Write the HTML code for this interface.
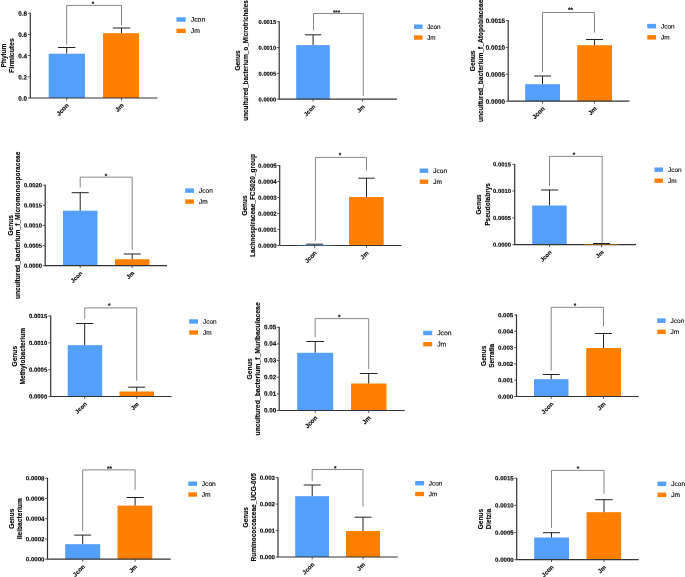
<!DOCTYPE html>
<html lang="en">
<head>
<meta charset="utf-8">
<title>Figure</title>
<style>
html,body{margin:0;padding:0;background:#fff;}
body{width:685px;height:577px;overflow:hidden;}
svg{display:block;}
svg text{font-family:"Liberation Sans", Arial, Helvetica, sans-serif;fill:#000000;stroke:#000000;stroke-width:0.12px;}
</style>
</head>
<body>
<svg width="685" height="577" viewBox="0 0 685 577">
<rect width="685" height="577" fill="#ffffff"/>
<g>
<rect x="48.7" y="53.7" width="36.3" height="44.3" fill="#539FFA"/>
<path d="M66.7 53.7V47.5M58 47.5H75.4" stroke="#222222" stroke-width="1" fill="none"/>
<rect x="103" y="33.2" width="36" height="64.8" fill="#FF8000"/>
<path d="M121.5 33.2V28M112.8 28H130.2" stroke="#222222" stroke-width="1" fill="none"/>
<path d="M30.3 12.8V98M29.8 98H157.5" stroke="#333333" stroke-width="1.2" fill="none"/>
<path d="M27.9 13.2H30.3M27.9 34.35H30.3M27.9 55.5H30.3M27.9 76.8H30.3M27.9 98H30.3M66.7 98V100.4M121.5 98V100.4" stroke="#333333" stroke-width="0.8" fill="none"/>
<text transform="translate(27 15.86) rotate(0.05)" font-size="6.3" font-weight="bold" text-anchor="end">0.8</text>
<text transform="translate(27 37.01) rotate(0.05)" font-size="6.3" font-weight="bold" text-anchor="end">0.6</text>
<text transform="translate(27 58.16) rotate(0.05)" font-size="6.3" font-weight="bold" text-anchor="end">0.4</text>
<text transform="translate(27 79.46) rotate(0.05)" font-size="6.3" font-weight="bold" text-anchor="end">0.2</text>
<text transform="translate(27 100.66) rotate(0.05)" font-size="6.3" font-weight="bold" text-anchor="end">0.0</text>
<text transform="translate(69.3 105.9) rotate(-45)" font-size="6.3" font-weight="bold" text-anchor="end">Jcon</text>
<text transform="translate(124.1 105.9) rotate(-45)" font-size="6.3" font-weight="bold" text-anchor="end">Jm</text>
<path d="M66.7 44.6V5.4H121.5V25" stroke="#555555" stroke-width="0.7" fill="none"/>
<text transform="translate(93 6.1) rotate(0.05)" font-size="6.4" font-weight="bold" stroke="none" fill="#222" text-anchor="middle">*</text>
<text transform="translate(6.2 55.6) rotate(-90)" font-size="6.9" font-weight="bold" text-anchor="middle" textLength="24" lengthAdjust="spacingAndGlyphs">Phylum</text>
<text transform="translate(14.4 55.6) rotate(-90)" font-size="6.9" font-weight="bold" text-anchor="middle" textLength="34.6" lengthAdjust="spacingAndGlyphs">Firmicutes</text>
<rect x="176.5" y="17.3" width="9.2" height="4.4" fill="#539FFA"/>
<rect x="176.5" y="28.7" width="9.2" height="4.4" fill="#FF8000"/>
<text transform="translate(190.8 21.7) rotate(0.05)" font-size="6.8">Jcon</text>
<text transform="translate(190.8 33.1) rotate(0.05)" font-size="6.8">Jm</text>
</g>
<g>
<rect x="296.2" y="45.1" width="33.6" height="54.1" fill="#539FFA"/>
<path d="M313.1 45.1V34.8M304.9 34.8H321.3" stroke="#222222" stroke-width="1" fill="none"/>
<path d="M279.2 21.3V99.2M278.7 99.2H397" stroke="#333333" stroke-width="1.2" fill="none"/>
<path d="M276.8 21.7H279.2M276.8 47.5H279.2M276.8 73.4H279.2M276.8 99.2H279.2M313.1 99.2V101.6M362.6 99.2V101.6" stroke="#333333" stroke-width="0.8" fill="none"/>
<text transform="translate(276.3 23.98) rotate(0.05)" font-size="5.8" font-weight="bold" text-anchor="end">0.0015</text>
<text transform="translate(276.3 49.78) rotate(0.05)" font-size="5.8" font-weight="bold" text-anchor="end">0.0010</text>
<text transform="translate(276.3 75.68) rotate(0.05)" font-size="5.8" font-weight="bold" text-anchor="end">0.0005</text>
<text transform="translate(276.3 101.48) rotate(0.05)" font-size="5.8" font-weight="bold" text-anchor="end">0.0000</text>
<text transform="translate(315.7 107.1) rotate(-45)" font-size="5.8" font-weight="bold" text-anchor="end">Jcon</text>
<text transform="translate(365.2 107.1) rotate(-45)" font-size="5.8" font-weight="bold" text-anchor="end">Jm</text>
<path d="M313.5 30.5V13.5H363.3V96" stroke="#555555" stroke-width="0.7" fill="none"/>
<text transform="translate(336.5 14.45) rotate(0.05)" font-size="6.1" font-weight="bold" stroke="none" fill="#222" text-anchor="middle">***</text>
<text transform="translate(240.1 60.5) rotate(-90)" font-size="6.5" font-weight="bold" text-anchor="middle">Genus</text>
<text transform="translate(247.5 60.5) rotate(-90)" font-size="6.7" font-weight="bold" text-anchor="middle" textLength="120.4" lengthAdjust="spacingAndGlyphs">uncultured_bacterium_o_Microtrichales</text>
<rect x="414" y="24.5" width="8.5" height="4.4" fill="#539FFA"/>
<rect x="414" y="35.3" width="8.5" height="4.4" fill="#FF8000"/>
<text transform="translate(427.2 28.9) rotate(0.05)" font-size="6.35">Jcon</text>
<text transform="translate(427.2 39.7) rotate(0.05)" font-size="6.35">Jm</text>
</g>
<g>
<rect x="525.2" y="84.2" width="34.8" height="17" fill="#539FFA"/>
<path d="M542.5 84.2V76M534 76H551" stroke="#222222" stroke-width="1" fill="none"/>
<rect x="577.2" y="45.2" width="34.8" height="56" fill="#FF8000"/>
<path d="M594.5 45.2V39.5M586 39.5H603" stroke="#222222" stroke-width="1" fill="none"/>
<path d="M508.2 20.1V101.2M507.7 101.2H629.5" stroke="#333333" stroke-width="1.2" fill="none"/>
<path d="M505.8 20.5H508.2M505.8 47.4H508.2M505.8 74.3H508.2M505.8 101.2H508.2M542.5 101.2V103.6M594.5 101.2V103.6" stroke="#333333" stroke-width="0.8" fill="none"/>
<text transform="translate(505 22.96) rotate(0.05)" font-size="6.3" font-weight="bold" text-anchor="end">0.0015</text>
<text transform="translate(505 49.86) rotate(0.05)" font-size="6.3" font-weight="bold" text-anchor="end">0.0010</text>
<text transform="translate(505 76.76) rotate(0.05)" font-size="6.3" font-weight="bold" text-anchor="end">0.0005</text>
<text transform="translate(505 103.66) rotate(0.05)" font-size="6.3" font-weight="bold" text-anchor="end">0.0000</text>
<text transform="translate(545.1 109.1) rotate(-45)" font-size="6.3" font-weight="bold" text-anchor="end">Jcon</text>
<text transform="translate(597.1 109.1) rotate(-45)" font-size="6.3" font-weight="bold" text-anchor="end">Jm</text>
<path d="M542.5 72V12.5H594.5V32.5" stroke="#555555" stroke-width="0.7" fill="none"/>
<text transform="translate(570.4 12) rotate(0.05)" font-size="6.4" font-weight="bold" stroke="none" fill="#222" text-anchor="middle">**</text>
<text transform="translate(475 60.85) rotate(-90)" font-size="6.7" font-weight="bold" text-anchor="middle">Genus</text>
<text transform="translate(482.5 60.85) rotate(-90)" font-size="6.7" font-weight="bold" text-anchor="middle" textLength="122.3" lengthAdjust="spacingAndGlyphs">uncultured_bacterium_f_Atopobiaceae</text>
<rect x="647.3" y="23.9" width="8.8" height="4.5" fill="#539FFA"/>
<rect x="647.3" y="35.1" width="8.8" height="4.5" fill="#FF8000"/>
<text transform="translate(661 28.4) rotate(0.05)" font-size="6.45">Jcon</text>
<text transform="translate(661 39.6) rotate(0.05)" font-size="6.45">Jm</text>
</g>
<g>
<rect x="63" y="210.7" width="34.5" height="55" fill="#539FFA"/>
<path d="M80.2 210.7V192.7M71.7 192.7H88.7" stroke="#222222" stroke-width="1" fill="none"/>
<rect x="115" y="259.2" width="34.5" height="6.5" fill="#FF8000"/>
<path d="M132.2 259.2V254M123.7 254H140.7" stroke="#222222" stroke-width="1" fill="none"/>
<path d="M45.2 184.8V265.7M44.7 265.7H167" stroke="#333333" stroke-width="1.2" fill="none"/>
<path d="M42.8 185.2H45.2M42.8 205.3H45.2M42.8 225.4H45.2M42.8 245.6H45.2M42.8 265.7H45.2M80.2 265.7V268.1M132.2 265.7V268.1" stroke="#333333" stroke-width="0.8" fill="none"/>
<text transform="translate(42.1 187.31) rotate(0.05)" font-size="5.9" font-weight="bold" text-anchor="end">0.0020</text>
<text transform="translate(42.1 207.41) rotate(0.05)" font-size="5.9" font-weight="bold" text-anchor="end">0.0015</text>
<text transform="translate(42.1 227.51) rotate(0.05)" font-size="5.9" font-weight="bold" text-anchor="end">0.0010</text>
<text transform="translate(42.1 247.71) rotate(0.05)" font-size="5.9" font-weight="bold" text-anchor="end">0.0005</text>
<text transform="translate(42.1 267.81) rotate(0.05)" font-size="5.9" font-weight="bold" text-anchor="end">0.0000</text>
<text transform="translate(82.8 273.6) rotate(-45)" font-size="5.9" font-weight="bold" text-anchor="end">Jcon</text>
<text transform="translate(134.8 273.6) rotate(-45)" font-size="5.9" font-weight="bold" text-anchor="end">Jm</text>
<path d="M80.2 187.5V177.15H132.2V250" stroke="#555555" stroke-width="0.7" fill="none"/>
<text transform="translate(106 178.2) rotate(0.05)" font-size="6.4" font-weight="bold" stroke="none" fill="#222" text-anchor="middle">*</text>
<text transform="translate(13 225.3) rotate(-90)" font-size="6.6" font-weight="bold" text-anchor="middle">Genus</text>
<text transform="translate(20.3 225.3) rotate(-90)" font-size="6.6" font-weight="bold" text-anchor="middle" textLength="147.5" lengthAdjust="spacingAndGlyphs">uncultured_bacterium_f_Micromonosporaceae</text>
<rect x="185.2" y="188.4" width="8.7" height="4.4" fill="#539FFA"/>
<rect x="185.2" y="199.4" width="8.7" height="4.4" fill="#FF8000"/>
<text transform="translate(199 192.8) rotate(0.05)" font-size="6.55">Jcon</text>
<text transform="translate(199 203.8) rotate(0.05)" font-size="6.55">Jm</text>
</g>
<g>
<path d="M314.6 244.5V244.2M306.1 244.2H323.1" stroke="#222222" stroke-width="1" fill="none"/>
<rect x="349" y="197" width="34.7" height="48.5" fill="#FF8000"/>
<path d="M366.5 197V178.2M358.3 178.2H374.7" stroke="#222222" stroke-width="1" fill="none"/>
<path d="M279.7 165.1V245.5M279.2 245.5H401.5" stroke="#333333" stroke-width="1.2" fill="none"/>
<rect x="298.5" y="244.8" width="33.5" height="1.1" fill="#539FFA" opacity="0.45"/>
<path d="M277.3 165.5H279.7M277.3 181.5H279.7M277.3 197.5H279.7M277.3 213.5H279.7M277.3 229.5H279.7M277.3 245.5H279.7M314.6 245.5V247.9M366.5 245.5V247.9" stroke="#333333" stroke-width="0.8" fill="none"/>
<text transform="translate(276.7 167.68) rotate(0.05)" font-size="6.1" font-weight="bold" text-anchor="end">0.0005</text>
<text transform="translate(276.7 183.68) rotate(0.05)" font-size="6.1" font-weight="bold" text-anchor="end">0.0004</text>
<text transform="translate(276.7 199.68) rotate(0.05)" font-size="6.1" font-weight="bold" text-anchor="end">0.0003</text>
<text transform="translate(276.7 215.68) rotate(0.05)" font-size="6.1" font-weight="bold" text-anchor="end">0.0002</text>
<text transform="translate(276.7 231.68) rotate(0.05)" font-size="6.1" font-weight="bold" text-anchor="end">0.0001</text>
<text transform="translate(276.7 247.68) rotate(0.05)" font-size="6.1" font-weight="bold" text-anchor="end">0.0000</text>
<text transform="translate(317.2 253.4) rotate(-45)" font-size="6.1" font-weight="bold" text-anchor="end">Jcon</text>
<text transform="translate(369.1 253.4) rotate(-45)" font-size="6.1" font-weight="bold" text-anchor="end">Jm</text>
<path d="M315.4 240.7V157.4H366.5V170.7" stroke="#555555" stroke-width="0.7" fill="none"/>
<text transform="translate(340.1 157.2) rotate(0.05)" font-size="6.4" font-weight="bold" stroke="none" fill="#222" text-anchor="middle">*</text>
<text transform="translate(247.3 205.5) rotate(-90)" font-size="6.5" font-weight="bold" text-anchor="middle">Genus</text>
<text transform="translate(255 205.5) rotate(-90)" font-size="6.5" font-weight="bold" text-anchor="middle" textLength="103" lengthAdjust="spacingAndGlyphs">Lachnospiraceae_FCS020_group</text>
<rect x="419.7" y="168.5" width="8.5" height="4.4" fill="#539FFA"/>
<rect x="419.7" y="179.5" width="8.5" height="4.4" fill="#FF8000"/>
<text transform="translate(433.2 172.9) rotate(0.05)" font-size="6.55">Jcon</text>
<text transform="translate(433.2 183.9) rotate(0.05)" font-size="6.55">Jm</text>
</g>
<g>
<rect x="532.2" y="205.5" width="34.5" height="39.2" fill="#539FFA"/>
<path d="M549.5 205.5V190M541 190H558" stroke="#222222" stroke-width="1" fill="none"/>
<path d="M601.5 243.8V243.5M593 243.5H610" stroke="#222222" stroke-width="1" fill="none"/>
<path d="M514.7 163.9V244.7M514.2 244.7H636" stroke="#333333" stroke-width="1.2" fill="none"/>
<rect x="584" y="244" width="34.5" height="1.1" fill="#FF8000" opacity="0.45"/>
<path d="M512.3 164.3H514.7M512.3 191H514.7M512.3 217.85H514.7M512.3 244.7H514.7M549.5 244.7V247.1M601.5 244.7V247.1" stroke="#333333" stroke-width="0.8" fill="none"/>
<text transform="translate(510.9 166.39) rotate(0.05)" font-size="5.85" font-weight="bold" text-anchor="end">0.0015</text>
<text transform="translate(510.9 193.09) rotate(0.05)" font-size="5.85" font-weight="bold" text-anchor="end">0.0010</text>
<text transform="translate(510.9 219.94) rotate(0.05)" font-size="5.85" font-weight="bold" text-anchor="end">0.0005</text>
<text transform="translate(510.9 246.79) rotate(0.05)" font-size="5.85" font-weight="bold" text-anchor="end">0.0000</text>
<text transform="translate(552.1 252.6) rotate(-45)" font-size="5.85" font-weight="bold" text-anchor="end">Jcon</text>
<text transform="translate(604.1 252.6) rotate(-45)" font-size="5.85" font-weight="bold" text-anchor="end">Jm</text>
<path d="M549.5 186V156.4H602.2V242.7" stroke="#555555" stroke-width="0.7" fill="none"/>
<text transform="translate(574.1 157.1) rotate(0.05)" font-size="6.4" font-weight="bold" stroke="none" fill="#222" text-anchor="middle">*</text>
<text transform="translate(481.1 204.4) rotate(-90)" font-size="6.5" font-weight="bold" text-anchor="middle">Genus</text>
<text transform="translate(489.5 204.4) rotate(-90)" font-size="6.5" font-weight="bold" text-anchor="middle" textLength="42.8" lengthAdjust="spacingAndGlyphs">Pseudolabrys</text>
<rect x="654.5" y="167.5" width="8.5" height="4.4" fill="#539FFA"/>
<rect x="654.5" y="178.5" width="8.5" height="4.4" fill="#FF8000"/>
<text transform="translate(668 171.9) rotate(0.05)" font-size="6.45">Jcon</text>
<text transform="translate(668 182.9) rotate(0.05)" font-size="6.45">Jm</text>
</g>
<g>
<rect x="67.7" y="345.2" width="34.5" height="51.3" fill="#539FFA"/>
<path d="M84.7 345.2V323.5M76.1 323.5H93.3" stroke="#222222" stroke-width="1" fill="none"/>
<rect x="119.5" y="391.5" width="34.5" height="5" fill="#FF8000"/>
<path d="M136.7 391.5V387.2M128.2 387.2H145.2" stroke="#222222" stroke-width="1" fill="none"/>
<path d="M50.7 315.6V396.5M50.2 396.5H171.5" stroke="#333333" stroke-width="1.2" fill="none"/>
<path d="M48.3 316H50.7M48.3 342.8H50.7M48.3 369.7H50.7M48.3 396.5H50.7M84.7 396.5V398.9M136.7 396.5V398.9" stroke="#333333" stroke-width="0.8" fill="none"/>
<text transform="translate(47.2 318.13) rotate(0.05)" font-size="5.95" font-weight="bold" text-anchor="end">0.0015</text>
<text transform="translate(47.2 344.93) rotate(0.05)" font-size="5.95" font-weight="bold" text-anchor="end">0.0010</text>
<text transform="translate(47.2 371.83) rotate(0.05)" font-size="5.95" font-weight="bold" text-anchor="end">0.0005</text>
<text transform="translate(47.2 398.63) rotate(0.05)" font-size="5.95" font-weight="bold" text-anchor="end">0.0000</text>
<text transform="translate(87.3 404.4) rotate(-45)" font-size="5.95" font-weight="bold" text-anchor="end">Jcon</text>
<text transform="translate(139.3 404.4) rotate(-45)" font-size="5.95" font-weight="bold" text-anchor="end">Jm</text>
<path d="M84.7 319.2V307.9H136.7V380.5" stroke="#555555" stroke-width="0.7" fill="none"/>
<text transform="translate(109.2 307.7) rotate(0.05)" font-size="6.4" font-weight="bold" stroke="none" fill="#222" text-anchor="middle">*</text>
<text transform="translate(17.3 356.2) rotate(-90)" font-size="6.6" font-weight="bold" text-anchor="middle">Genus</text>
<text transform="translate(25 356.2) rotate(-90)" font-size="6.6" font-weight="bold" text-anchor="middle" textLength="56.7" lengthAdjust="spacingAndGlyphs">Methylobacterium</text>
<rect x="189.2" y="319.3" width="8.8" height="4.4" fill="#539FFA"/>
<rect x="189.2" y="330.3" width="8.8" height="4.4" fill="#FF8000"/>
<text transform="translate(203 323.7) rotate(0.05)" font-size="6.45">Jcon</text>
<text transform="translate(203 334.7) rotate(0.05)" font-size="6.45">Jm</text>
</g>
<g>
<rect x="297.2" y="352.8" width="36" height="57.7" fill="#539FFA"/>
<path d="M315.2 352.8V341.5M306.3 341.5H324.1" stroke="#222222" stroke-width="1" fill="none"/>
<rect x="351" y="383.5" width="35.5" height="27" fill="#FF8000"/>
<path d="M368.7 383.5V373.5M359.8 373.5H377.6" stroke="#222222" stroke-width="1" fill="none"/>
<path d="M279.2 326.8V410.5M278.7 410.5H404.7" stroke="#333333" stroke-width="1.2" fill="none"/>
<path d="M276.8 327.2H279.2M276.8 343.9H279.2M276.8 360.5H279.2M276.8 377.2H279.2M276.8 393.8H279.2M276.8 410.5H279.2M315.2 410.5V412.9M368.7 410.5V412.9" stroke="#333333" stroke-width="0.8" fill="none"/>
<text transform="translate(276.2 329.16) rotate(0.05)" font-size="6.3" font-weight="bold" text-anchor="end">0.05</text>
<text transform="translate(276.2 345.86) rotate(0.05)" font-size="6.3" font-weight="bold" text-anchor="end">0.04</text>
<text transform="translate(276.2 362.46) rotate(0.05)" font-size="6.3" font-weight="bold" text-anchor="end">0.03</text>
<text transform="translate(276.2 379.16) rotate(0.05)" font-size="6.3" font-weight="bold" text-anchor="end">0.02</text>
<text transform="translate(276.2 395.76) rotate(0.05)" font-size="6.3" font-weight="bold" text-anchor="end">0.01</text>
<text transform="translate(276.2 412.46) rotate(0.05)" font-size="6.3" font-weight="bold" text-anchor="end">0.00</text>
<text transform="translate(317.8 418.4) rotate(-45)" font-size="6.3" font-weight="bold" text-anchor="end">Jcon</text>
<text transform="translate(371.3 418.4) rotate(-45)" font-size="6.3" font-weight="bold" text-anchor="end">Jm</text>
<path d="M315.2 337.2V318.6H368.7V369.2" stroke="#555555" stroke-width="0.7" fill="none"/>
<text transform="translate(339.3 319.3) rotate(0.05)" font-size="6.4" font-weight="bold" stroke="none" fill="#222" text-anchor="middle">*</text>
<text transform="translate(252.3 368.9) rotate(-90)" font-size="6.8" font-weight="bold" text-anchor="middle">Genus</text>
<text transform="translate(260.4 368.9) rotate(-90)" font-size="6.8" font-weight="bold" text-anchor="middle" textLength="133.3" lengthAdjust="spacingAndGlyphs">uncultured_bacterium_f_Muribaculaceae</text>
<rect x="423.2" y="330.8" width="9" height="4.4" fill="#539FFA"/>
<rect x="423.2" y="342" width="9" height="4.4" fill="#FF8000"/>
<text transform="translate(437.2 335.2) rotate(0.05)" font-size="6.8">Jcon</text>
<text transform="translate(437.2 346.4) rotate(0.05)" font-size="6.8">Jm</text>
</g>
<g>
<rect x="534" y="379.2" width="34.5" height="17.3" fill="#539FFA"/>
<path d="M551.2 379.2V374.5M542.7 374.5H559.7" stroke="#222222" stroke-width="1" fill="none"/>
<rect x="586.2" y="348" width="34.8" height="48.5" fill="#FF8000"/>
<path d="M603.5 348V333.5M595 333.5H612" stroke="#222222" stroke-width="1" fill="none"/>
<path d="M516.5 314.6V396.5M516 396.5H638.7" stroke="#333333" stroke-width="1.2" fill="none"/>
<path d="M514.1 315H516.5M514.1 331.3H516.5M514.1 347.6H516.5M514.1 363.9H516.5M514.1 380.2H516.5M514.1 396.5H516.5M551.2 396.5V398.9M603.5 396.5V398.9" stroke="#333333" stroke-width="0.8" fill="none"/>
<text transform="translate(513.25 317.18) rotate(0.05)" font-size="6.1" font-weight="bold" text-anchor="end">0.005</text>
<text transform="translate(513.25 333.48) rotate(0.05)" font-size="6.1" font-weight="bold" text-anchor="end">0.004</text>
<text transform="translate(513.25 349.78) rotate(0.05)" font-size="6.1" font-weight="bold" text-anchor="end">0.003</text>
<text transform="translate(513.25 366.08) rotate(0.05)" font-size="6.1" font-weight="bold" text-anchor="end">0.002</text>
<text transform="translate(513.25 382.38) rotate(0.05)" font-size="6.1" font-weight="bold" text-anchor="end">0.001</text>
<text transform="translate(513.25 398.68) rotate(0.05)" font-size="6.1" font-weight="bold" text-anchor="end">0.000</text>
<text transform="translate(553.8 404.4) rotate(-45)" font-size="6.1" font-weight="bold" text-anchor="end">Jcon</text>
<text transform="translate(606.1 404.4) rotate(-45)" font-size="6.1" font-weight="bold" text-anchor="end">Jm</text>
<path d="M551.2 370.5V307.3H603.5V326.7" stroke="#555555" stroke-width="0.7" fill="none"/>
<text transform="translate(575.1 307.7) rotate(0.05)" font-size="6.4" font-weight="bold" stroke="none" fill="#222" text-anchor="middle">*</text>
<text transform="translate(486.3 355.8) rotate(-90)" font-size="6.5" font-weight="bold" text-anchor="middle">Genus</text>
<text transform="translate(494 355.8) rotate(-90)" font-size="6.5" font-weight="bold" text-anchor="middle" textLength="24" lengthAdjust="spacingAndGlyphs">Serratia</text>
<rect x="657.2" y="318.4" width="8.5" height="4.5" fill="#539FFA"/>
<rect x="657.2" y="329.6" width="8.5" height="4.5" fill="#FF8000"/>
<text transform="translate(670.5 322.9) rotate(0.05)" font-size="6.55">Jcon</text>
<text transform="translate(670.5 334.1) rotate(0.05)" font-size="6.55">Jm</text>
</g>
<g>
<rect x="65.2" y="544.2" width="35" height="15" fill="#539FFA"/>
<path d="M82.7 544.2V535.1M74.2 535.1H91.2" stroke="#222222" stroke-width="1" fill="none"/>
<rect x="117.5" y="505.6" width="34.8" height="53.6" fill="#FF8000"/>
<path d="M135.1 505.6V497.5M126.5 497.5H143.7" stroke="#222222" stroke-width="1" fill="none"/>
<path d="M47.5 477.8V559.2M47 559.2H170.7" stroke="#333333" stroke-width="1.2" fill="none"/>
<path d="M45.1 478.2H47.5M45.1 498.5H47.5M45.1 518.7H47.5M45.1 539H47.5M45.1 559.2H47.5M82.7 559.2V561.6M135.1 559.2V561.6" stroke="#333333" stroke-width="0.8" fill="none"/>
<text transform="translate(44.5 480.38) rotate(0.05)" font-size="6.1" font-weight="bold" text-anchor="end">0.0008</text>
<text transform="translate(44.5 500.68) rotate(0.05)" font-size="6.1" font-weight="bold" text-anchor="end">0.0006</text>
<text transform="translate(44.5 520.88) rotate(0.05)" font-size="6.1" font-weight="bold" text-anchor="end">0.0004</text>
<text transform="translate(44.5 541.18) rotate(0.05)" font-size="6.1" font-weight="bold" text-anchor="end">0.0002</text>
<text transform="translate(44.5 561.38) rotate(0.05)" font-size="6.1" font-weight="bold" text-anchor="end">0.0000</text>
<text transform="translate(85.3 567.1) rotate(-45)" font-size="6.1" font-weight="bold" text-anchor="end">Jcon</text>
<text transform="translate(137.7 567.1) rotate(-45)" font-size="6.1" font-weight="bold" text-anchor="end">Jm</text>
<path d="M82.7 531V469.9H135.1V490" stroke="#555555" stroke-width="0.7" fill="none"/>
<text transform="translate(109.6 470.7) rotate(0.05)" font-size="6.4" font-weight="bold" stroke="none" fill="#222" text-anchor="middle">**</text>
<text transform="translate(13.7 518.7) rotate(-90)" font-size="6.5" font-weight="bold" text-anchor="middle">Genus</text>
<text transform="translate(22.2 518.7) rotate(-90)" font-size="6.5" font-weight="bold" text-anchor="middle" textLength="41" lengthAdjust="spacingAndGlyphs">Ileibacterium</text>
<rect x="188.3" y="481.5" width="8.7" height="4.4" fill="#539FFA"/>
<rect x="188.3" y="492.3" width="8.7" height="4.4" fill="#FF8000"/>
<text transform="translate(201.7 485.9) rotate(0.05)" font-size="6.7">Jcon</text>
<text transform="translate(201.7 496.7) rotate(0.05)" font-size="6.7">Jm</text>
</g>
<g>
<rect x="295.2" y="496.2" width="33.8" height="60.8" fill="#539FFA"/>
<path d="M312.2 496.2V485M303.7 485H320.7" stroke="#222222" stroke-width="1" fill="none"/>
<rect x="346" y="531" width="34" height="26" fill="#FF8000"/>
<path d="M363 531V517.2M354.5 517.2H371.5" stroke="#222222" stroke-width="1" fill="none"/>
<path d="M278 477.3V557M277.5 557H397.7" stroke="#333333" stroke-width="1.2" fill="none"/>
<path d="M275.6 477.7H278M275.6 504.1H278M275.6 530.6H278M275.6 557H278M312.2 557V559.4M363 557V559.4" stroke="#333333" stroke-width="0.8" fill="none"/>
<text transform="translate(275 479.88) rotate(0.05)" font-size="6.1" font-weight="bold" text-anchor="end">0.003</text>
<text transform="translate(275 506.28) rotate(0.05)" font-size="6.1" font-weight="bold" text-anchor="end">0.002</text>
<text transform="translate(275 532.78) rotate(0.05)" font-size="6.1" font-weight="bold" text-anchor="end">0.001</text>
<text transform="translate(275 559.18) rotate(0.05)" font-size="6.1" font-weight="bold" text-anchor="end">0.000</text>
<text transform="translate(314.8 564.9) rotate(-45)" font-size="6.1" font-weight="bold" text-anchor="end">Jcon</text>
<text transform="translate(365.6 564.9) rotate(-45)" font-size="6.1" font-weight="bold" text-anchor="end">Jm</text>
<path d="M312.2 481V469.5H363V506.7" stroke="#555555" stroke-width="0.7" fill="none"/>
<text transform="translate(335.3 470.5) rotate(0.05)" font-size="6.4" font-weight="bold" stroke="none" fill="#222" text-anchor="middle">*</text>
<text transform="translate(247.8 517.3) rotate(-90)" font-size="6.5" font-weight="bold" text-anchor="middle">Genus</text>
<text transform="translate(256 517.3) rotate(-90)" font-size="6.5" font-weight="bold" text-anchor="middle" textLength="88.5" lengthAdjust="spacingAndGlyphs">Ruminococcaceae_UCG-005</text>
<rect x="415.2" y="481" width="8.8" height="4.4" fill="#539FFA"/>
<rect x="415.2" y="491.8" width="8.8" height="4.4" fill="#FF8000"/>
<text transform="translate(428.7 485.4) rotate(0.05)" font-size="6.5">Jcon</text>
<text transform="translate(428.7 496.2) rotate(0.05)" font-size="6.5">Jm</text>
</g>
<g>
<rect x="534.2" y="537.5" width="34.8" height="22.2" fill="#539FFA"/>
<path d="M551.5 537.5V532.7M542.9 532.7H560.1" stroke="#222222" stroke-width="1" fill="none"/>
<rect x="586.5" y="512.2" width="34.7" height="47.5" fill="#FF8000"/>
<path d="M604 512.2V499.7M595.4 499.7H612.6" stroke="#222222" stroke-width="1" fill="none"/>
<path d="M516.7 477.8V559.7M516.2 559.7H638.7" stroke="#333333" stroke-width="1.2" fill="none"/>
<path d="M514.3 478.2H516.7M514.3 505.4H516.7M514.3 532.5H516.7M514.3 559.7H516.7M551.5 559.7V562.1M604 559.7V562.1" stroke="#333333" stroke-width="0.8" fill="none"/>
<text transform="translate(513.7 480.38) rotate(0.05)" font-size="6.1" font-weight="bold" text-anchor="end">0.0015</text>
<text transform="translate(513.7 507.58) rotate(0.05)" font-size="6.1" font-weight="bold" text-anchor="end">0.0010</text>
<text transform="translate(513.7 534.68) rotate(0.05)" font-size="6.1" font-weight="bold" text-anchor="end">0.0005</text>
<text transform="translate(513.7 561.88) rotate(0.05)" font-size="6.1" font-weight="bold" text-anchor="end">0.0000</text>
<text transform="translate(554.1 567.6) rotate(-45)" font-size="6.1" font-weight="bold" text-anchor="end">Jcon</text>
<text transform="translate(606.6 567.6) rotate(-45)" font-size="6.1" font-weight="bold" text-anchor="end">Jm</text>
<path d="M551.5 528V470.4H604V493.7" stroke="#555555" stroke-width="0.7" fill="none"/>
<text transform="translate(578 470.7) rotate(0.05)" font-size="6.4" font-weight="bold" stroke="none" fill="#222" text-anchor="middle">*</text>
<text transform="translate(482.9 519) rotate(-90)" font-size="6.6" font-weight="bold" text-anchor="middle">Genus</text>
<text transform="translate(490.8 519) rotate(-90)" font-size="6.6" font-weight="bold" text-anchor="middle" textLength="20.5" lengthAdjust="spacingAndGlyphs">Dietzia</text>
<rect x="657.5" y="481.6" width="8.7" height="4.5" fill="#539FFA"/>
<rect x="657.5" y="492.6" width="8.7" height="4.5" fill="#FF8000"/>
<text transform="translate(671.2 486.1) rotate(0.05)" font-size="6.6">Jcon</text>
<text transform="translate(671.2 497.1) rotate(0.05)" font-size="6.6">Jm</text>
</g>
</svg>
</body>
</html>
